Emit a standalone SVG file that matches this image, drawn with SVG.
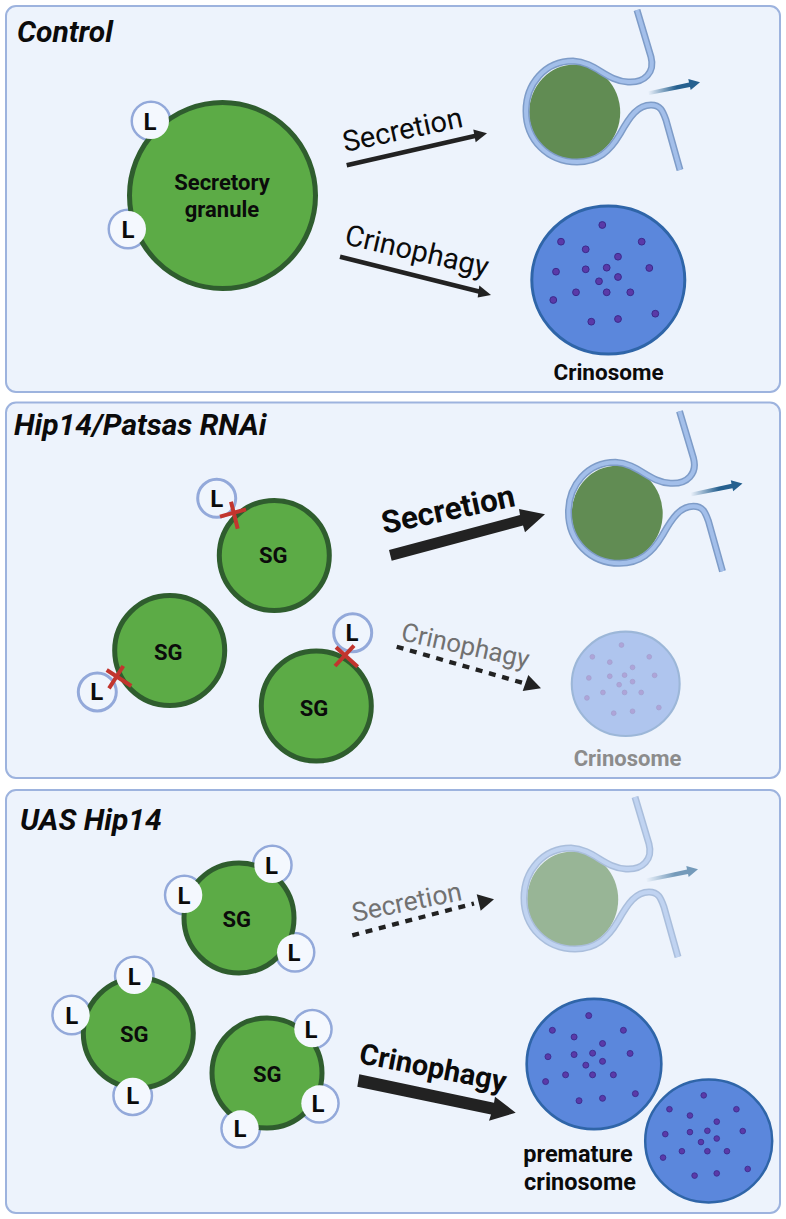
<svg xmlns="http://www.w3.org/2000/svg" xmlns:xlink="http://www.w3.org/1999/xlink" width="786" height="1219" viewBox="0 0 786 1219">
<style>
text{font-family:Roboto,"Liberation Sans",sans-serif;fill:#0b0b0b}
.panel{fill:#edf3fc;stroke:#9db3de;stroke-width:2}
.title{font-weight:700;font-style:italic;font-size:30px}
.sg{fill:#5cab46;stroke:#2f5d2e;stroke-width:5}
.ring{fill:#eff5fd;stroke:#93a9da;stroke-width:3}
.cap{fill:#f4f8fe}
.lbl{font-weight:700;text-anchor:middle}
.ll{font-size:24px}
.sgt{font-size:22px}
.x{stroke:#c2352e;stroke-width:4;fill:none}
.arr{stroke:#222;stroke-width:4.500;fill:none}
.dash{stroke:#222;stroke-width:4.300;fill:none;stroke-dasharray:7 6.700}
.head{fill:#222}
.dot{fill:#5a3aa8;stroke:#3b2a8c;stroke-width:1}
.gray{fill:#717171}
.fade{fill:#8c8c8c}
</style>
<defs>
<linearGradient id="out" x1="0" y1="0" x2="1" y2="0">
<stop offset="0" stop-color="#25608f" stop-opacity="0"/>
<stop offset="0.55" stop-color="#25608f"/>
</linearGradient>
<g id="vesicle">
<ellipse cx="574.7" cy="112.4" rx="45.5" ry="48" fill="#618c53"/>
<path d="M637 10L651 57C655 72 645 83 628 82C606 81 596 62 573 61C545 61 526 84 526 111C526 140 548 162 577 162C598 162 610 151 620 134C630 116 638 105 651 105C661 105 663 112 666 120L680 170" fill="none" stroke="#7e9cc8" stroke-width="7"/>
<path d="M637 10L651 57C655 72 645 83 628 82C606 81 596 62 573 61C545 61 526 84 526 111C526 140 548 162 577 162C598 162 610 151 620 134C630 116 638 105 651 105C661 105 663 112 666 120L680 170" fill="none" stroke="#a3bfea" stroke-width="4"/>
<path d="M648 91.500L689 82.500L688.300 79L700 82.300L690.700 90L690 87L649 95Z" fill="url(#out)"/>
</g>
<g id="crino">
<ellipse cx="0" cy="0" rx="76.500" ry="74" fill="#5b87dc" stroke="#2f65a8" stroke-width="3"/>
<circle class="dot" cx="-6" cy="-55" r="3.400"/><circle class="dot" cx="-47.300" cy="-38.300" r="3.400"/><circle class="dot" cx="33.400" cy="-38.300" r="3.400"/><circle class="dot" cx="-22.600" cy="-30.700" r="3.400"/><circle class="dot" cx="9.700" cy="-23.300" r="3.400"/><circle class="dot" cx="-52.300" cy="-8.300" r="3.400"/><circle class="dot" cx="-22.600" cy="-10.700" r="3.400"/><circle class="dot" cx="-1.600" cy="-12.300" r="3.400"/><circle class="dot" cx="41" cy="-12" r="3.400"/><circle class="dot" cx="9.700" cy="-3" r="3.400"/><circle class="dot" cx="-9.300" cy="1.300" r="3.400"/><circle class="dot" cx="-32.300" cy="12.300" r="3.400"/><circle class="dot" cx="-1.600" cy="12.300" r="3.400"/><circle class="dot" cx="22" cy="12.300" r="3.400"/><circle class="dot" cx="-55" cy="20" r="3.400"/><circle class="dot" cx="47" cy="33.700" r="3.400"/><circle class="dot" cx="-17" cy="41.700" r="3.400"/><circle class="dot" cx="9.700" cy="39" r="3.400"/>
</g>
</defs>

<rect width="786" height="1219" fill="#fff"/>
<rect class="panel" x="6" y="6" width="774" height="386" rx="10"/>
<rect class="panel" x="6" y="402.500" width="774" height="375.500" rx="10"/>
<rect class="panel" x="6" y="790" width="774" height="423" rx="10"/>
<text class="title" x="17" y="42">Control</text>
<text class="title" x="14" y="435">Hip14/Patsas RNAi</text>
<text class="title" x="20" y="830">UAS Hip14</text>

<g id="connectors">
<path class="arr" d="M346.700 165.300L477 135.500"/><path class="head" d="M487 133.300L473.300 129.500L475.700 142.200Z"/>
<path class="arr" d="M340 256.700L481 292"/><path class="head" d="M491 295L479.300 285.500L477.700 297.500Z"/>
<path class="head" d="M389 550L520 515L519 509L545 514.300L525 532.300L523 525.500L391.700 560.700Z"/>
<path class="dash" d="M396.700 646.700L525 683.500"/><path class="head" d="M541 688.300L528.300 675L522.700 691Z"/>
<path class="dash" d="M352.300 935.300L474 903.500"/><path class="head" d="M494 899.300L476.700 894.300L480.700 910.700Z"/>
<path class="head" d="M359.300 1074.300L494 1102.700L495 1096.700L515.700 1112.700L489 1120.700L491 1114.500L357.300 1086.700Z"/>
</g>

<g id="control-label-secretion"><text transform="translate(345 152) rotate(-12)" font-size="29">Secretion</text></g>
<g id="control-label-crinophagy"><text transform="translate(343.500 244) rotate(13)" font-size="29">Crinophagy</text></g>
<g id="hip-label-secretion"><text transform="translate(384 534) rotate(-12)" font-size="31.500" font-weight="700">Secretion</text></g>
<g id="hip-label-crinophagy"><text class="gray" transform="translate(400 640) rotate(12.500)" font-size="25.800">Crinophagy</text></g>
<g id="uas-label-secretion"><text class="gray" transform="translate(354 922) rotate(-11.500)" font-size="26.500">Secretion</text></g>
<g id="uas-label-crinophagy"><text transform="translate(358 1063) rotate(11)" font-size="29" font-weight="700">Crinophagy</text></g>

<g id="control-granule">
<circle class="ring" cx="151" cy="121" r="19"/><circle class="ring" cx="128" cy="229" r="19"/>
<circle class="sg" cx="222.500" cy="195.500" r="93"/>
<text class="lbl" x="222" y="190" font-size="22">Secretory</text>
<text class="lbl" x="222" y="217" font-size="22">granule</text>
<g id="control-lys-a"><circle class="cap" cx="151" cy="121" r="18"/><text class="lbl ll" x="150" y="129.500">L</text></g>
<g id="control-lys-b"><circle class="cap" cx="128" cy="229" r="18"/><text class="lbl ll" x="128" y="237.500">L</text></g>
</g>
<g id="control-vesicle"><use href="#vesicle" xlink:href="#vesicle"/></g>
<g id="control-crinosome"><use href="#crino" xlink:href="#crino" transform="translate(608.300 280)"/></g>
<text id="control-crinosome-label" class="lbl" x="608.500" y="379.500" font-size="22.500">Crinosome</text>

<g id="hip-lys-a"><circle class="ring" cx="216.700" cy="498.300" r="19"/><text class="lbl ll" x="216.700" y="506.500">L</text></g>
<g id="hip-lys-b"><circle class="ring" cx="97.300" cy="692" r="19"/><text class="lbl ll" x="96.700" y="700">L</text></g>
<g id="hip-lys-c"><circle class="ring" cx="352.700" cy="632.700" r="19"/><text class="lbl ll" x="352" y="640.700">L</text></g>
<g id="hip-sg-a"><circle class="sg" cx="274.300" cy="555.500" r="55"/><text class="lbl sgt" x="273.300" y="563.300">SG</text></g>
<g id="hip-sg-b"><circle class="sg" cx="169.700" cy="650.500" r="55"/><text class="lbl sgt" x="168.300" y="660">SG</text></g>
<g id="hip-sg-c"><circle class="sg" cx="316.300" cy="706" r="55"/><text class="lbl sgt" x="314" y="716">SG</text></g>
<path class="x" d="M220 516.700L246 509.300M231 501.700L237.700 528.700"/>
<path class="x" d="M106.700 670L131.300 686M123.300 666L109 688.300"/>
<path class="x" d="M335 666L354 645.700M336 647.300L357.700 666.700"/>
<g id="hip-vesicle"><use href="#vesicle" xlink:href="#vesicle" transform="translate(42.500 401.300)"/></g>
<g id="hip-crinosome" opacity="0.42"><use href="#crino" xlink:href="#crino" transform="translate(625.700 683.800) scale(.705)"/></g>
<text id="hip-crinosome-label" class="lbl fade" x="627.500" y="766" font-size="22">Crinosome</text>

<g id="uas-cluster-a">
<circle class="ring" cx="272.300" cy="865" r="19"/><circle class="ring" cx="184.300" cy="895" r="19"/><circle class="ring" cx="295" cy="952.300" r="19"/>
<circle class="sg" cx="239" cy="918" r="55"/><text class="lbl sgt" x="236.700" y="927">SG</text>
<g id="uas-lys-a"><circle class="cap" cx="272.300" cy="865" r="18"/><text class="lbl ll" x="271.500" y="873.500">L</text></g>
<g id="uas-lys-b"><circle class="cap" cx="184.300" cy="895" r="18"/><text class="lbl ll" x="184" y="903.500">L</text></g>
<g id="uas-lys-c"><circle class="cap" cx="295" cy="952.300" r="18"/><text class="lbl ll" x="294" y="960.800">L</text></g>
</g>
<g id="uas-cluster-b">
<circle class="ring" cx="134.300" cy="976" r="19"/><circle class="ring" cx="71.700" cy="1015" r="19"/><circle class="ring" cx="132.700" cy="1095.700" r="19"/>
<circle class="sg" cx="138.300" cy="1033" r="55"/><text class="lbl sgt" x="134.300" y="1042">SG</text>
<g id="uas-lys-d"><circle class="cap" cx="134.300" cy="976" r="18"/><text class="lbl ll" x="134.300" y="984.500">L</text></g>
<g id="uas-lys-e"><circle class="cap" cx="71.700" cy="1015" r="18"/><text class="lbl ll" x="71.700" y="1023.500">L</text></g>
<g id="uas-lys-f"><circle class="cap" cx="132.700" cy="1095.700" r="18"/><text class="lbl ll" x="132.700" y="1104.200">L</text></g>
</g>
<g id="uas-cluster-c">
<circle class="ring" cx="312.300" cy="1029.300" r="19"/><circle class="ring" cx="319.300" cy="1103.300" r="19"/><circle class="ring" cx="240.700" cy="1128.300" r="19"/>
<circle class="sg" cx="267" cy="1073" r="55"/><text class="lbl sgt" x="267.300" y="1081.700">SG</text>
<g id="uas-lys-g"><circle class="cap" cx="312.300" cy="1029.300" r="18"/><text class="lbl ll" x="311" y="1037.800">L</text></g>
<g id="uas-lys-h"><circle class="cap" cx="319.300" cy="1103.300" r="18"/><text class="lbl ll" x="318" y="1111.800">L</text></g>
<g id="uas-lys-i"><circle class="cap" cx="240.700" cy="1128.300" r="18"/><text class="lbl ll" x="240" y="1136.800">L</text></g>
</g>
<g id="uas-vesicle" opacity="0.6"><use href="#vesicle" xlink:href="#vesicle" transform="translate(-2 787)"/></g>
<g id="uas-crinosome-a"><use href="#crino" xlink:href="#crino" transform="translate(594 1064) scale(.88)"/></g>
<g id="uas-crinosome-b"><use href="#crino" xlink:href="#crino" transform="translate(708.700 1141) scale(.83)"/></g>
<text id="uas-crinosome-label" class="lbl" font-size="23.500"><tspan x="578" y="1162">premature</tspan><tspan x="580" y="1190">crinosome</tspan></text>
</svg>
